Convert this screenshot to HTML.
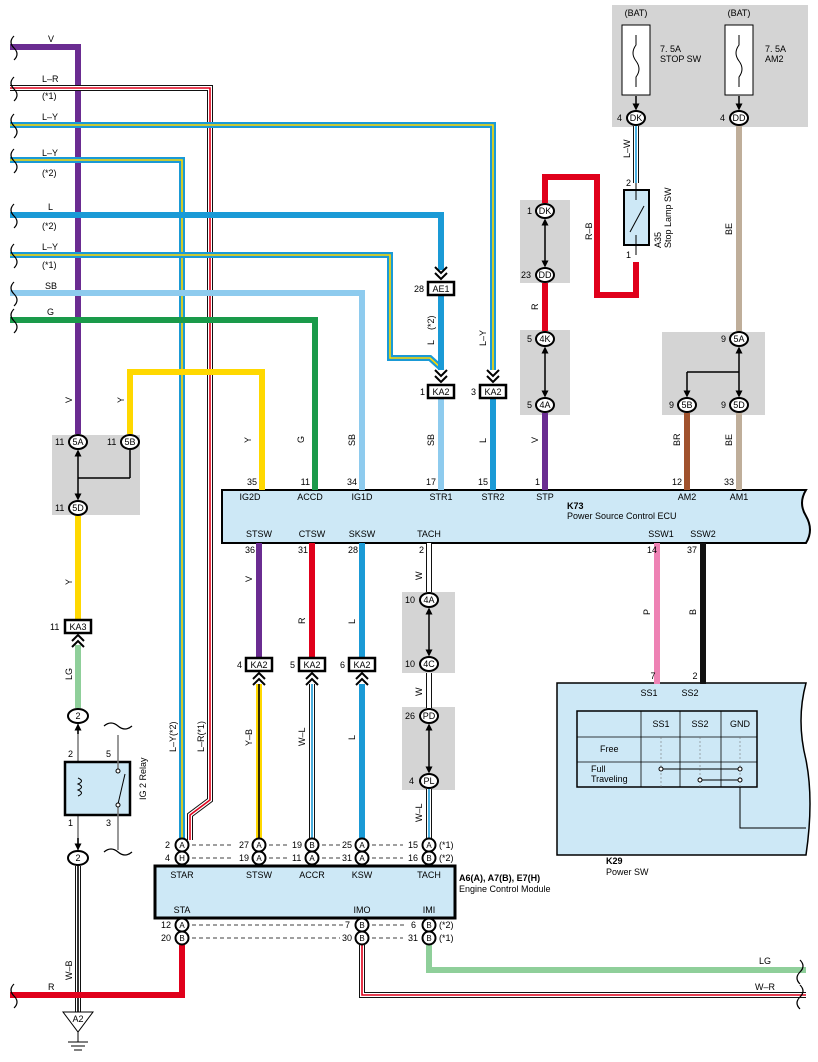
<!DOCTYPE html>
<html><head><meta charset="utf-8"><style>
body{margin:0;background:#fff}
svg{display:block;font-family:"Liberation Sans",sans-serif}
.c{fill:none;stroke-width:6;stroke-linejoin:miter}
.k{fill:none;stroke:#111;stroke-width:6;stroke-linejoin:miter}
.w{fill:none;stroke:#fff;stroke-width:4;stroke-linejoin:miter}
.s{fill:none;stroke-width:1.6}
.t{font-size:9px;fill:#000}
.p{font-size:9px;fill:#000;text-anchor:middle}
.e{font-size:9px;fill:#000;text-anchor:end}
.cc{fill:#fff;stroke:#000;stroke-width:2}
.g{fill:#d4d4d4}
.ch{fill:none;stroke:#000;stroke-width:2}
.ln{stroke:#000;stroke-width:1.5}
.r{fill:#fff;stroke:#000;stroke-width:2.5}
</style></head><body>
<svg width="818" height="1062" viewBox="0 0 818 1062">
<defs><marker id="ah" markerWidth="7" markerHeight="7" refX="3.5" refY="3.5" orient="auto-start-reverse" markerUnits="userSpaceOnUse"><path d="M0,0 L7,3.5 L0,7 Z" fill="#000"/></marker></defs>
<rect class="g" x="612" y="5" width="196" height="122"/>
<rect class="g" x="520" y="200" width="50" height="83"/>
<rect class="g" x="520" y="330" width="50" height="85"/>
<rect class="g" x="662" y="332" width="103" height="83"/>
<rect class="g" x="52" y="435" width="88" height="80"/>
<rect class="g" x="402" y="592" width="53" height="81"/>
<rect class="g" x="402" y="707" width="53" height="83"/>

<path d="M222 490 H806 Q798 503 806 516 Q814 530 806 543 H222 Z" fill="#cde8f6" stroke="#000" stroke-width="2"/>
<path d="M557 683 H806 Q796 720 806 760 Q814 800 806 855 H557 Z" fill="#cde8f6" stroke="#000" stroke-width="1.5"/>
<rect x="155" y="866" width="300" height="52" fill="#cde8f6" stroke="#000" stroke-width="3"/>

<polyline class="c" stroke="#6a2c91" points="10,47 78,47 78,434"/>
<polyline class="k" points="10,88 210,88 210,800 190,815 190,840"/><polyline class="w" points="10,88 210,88 210,800 190,815 190,840"/>
<polyline class="s" stroke="#e0001b" points="10,88 210,88 210,800 190,815 190,840"/>
<polyline class="c" stroke="#1a9ad6" points="10,125 493,125 493,370"/><polyline class="s" stroke="#ffd800" points="10,125 493,125 493,370"/>
<polyline class="c" stroke="#1a9ad6" points="10,160 182,160 182,838"/><polyline class="s" stroke="#ffd800" points="10,160 182,160 182,838"/>
<polyline class="c" stroke="#1a9ad6" points="10,215 441,215 441,270"/>
<polyline class="c" stroke="#1a9ad6" points="10,255 390,255 390,358 430,358 441,368"/><polyline class="s" stroke="#ffd800" points="10,255 390,255 390,358 430,358 441,368"/>
<polyline class="c" stroke="#8ecbee" points="10,293 362,293 362,490"/>
<polyline class="c" stroke="#1a9a4a" points="10,320 315,320 315,490"/>
<polyline class="c" stroke="#ffd800" points="130,434 130,372 262,372 262,490"/>
<polyline class="c" stroke="#1a9ad6" points="441,295 441,370"/>
<polyline class="c" stroke="#8ecbee" points="441,398 441,490"/>
<polyline class="c" stroke="#1a9ad6" points="493,398 493,490"/>
<polyline class="c" stroke="#6a2c91" points="545,413 545,490"/>
<polyline class="c" stroke="#e0001b" points="545,283 545,331"/>
<polyline class="c" stroke="#e0001b" points="545,203 545,177 597,177 597,295 636,295 636,262"/>
<polyline class="k" points="636,126 636,183"/><polyline class="w" points="636,126 636,183"/><polyline class="s" stroke="#1a9ad6" points="636,126 636,183"/>
<polyline class="c" stroke="#bfae9a" points="739,126 739,331"/>
<polyline class="c" stroke="#bfae9a" points="739,413 739,490"/>
<polyline class="c" stroke="#a0522d" points="687,413 687,490"/>
<polyline class="c" stroke="#ffd800" points="78,516 78,620"/>
<polyline class="c" stroke="#8fcf9a" points="78,645 78,708"/>
<polyline class="c" stroke="#6a2c91" points="259,543 259,658"/>
<polyline class="c" stroke="#e0001b" points="312,543 312,658"/>
<polyline class="c" stroke="#1a9ad6" points="362,543 362,658"/>
<polyline class="c" stroke="#ffd800" points="259,684 259,838"/><polyline class="s" stroke="#000" points="259,684 259,838"/>
<polyline class="k" points="312,684 312,838"/><polyline class="w" points="312,684 312,838"/><polyline class="s" stroke="#1a9ad6" points="312,684 312,838"/>
<polyline class="c" stroke="#1a9ad6" points="362,684 362,838"/>
<polyline class="k" points="429,543 429,592"/><polyline class="w" points="429,543 429,592"/>
<polyline class="k" points="429,673 429,708"/><polyline class="w" points="429,673 429,708"/>
<polyline class="k" points="429,789 429,838"/><polyline class="w" points="429,789 429,838"/><polyline class="s" stroke="#1a9ad6" points="429,789 429,838"/>
<polyline class="c" stroke="#ee82b4" points="657,543 657,684"/>
<polyline class="c" stroke="#111" points="703,543 703,684"/>
<line x1="78" y1="724" x2="78" y2="850" stroke="#777" stroke-width="1.5"/>
<polyline class="k" points="78,866 78,1012"/><polyline class="w" points="78,866 78,1012"/><polyline class="s" stroke="#000" points="78,866 78,1012"/>
<polyline class="c" stroke="#e0001b" points="182,945 182,995 10,995"/>
<polyline class="k" points="362,945 362,995 806,995"/><polyline class="w" points="362,945 362,995 806,995"/><polyline class="s" stroke="#e0001b" points="362,945 362,995 806,995"/>
<polyline class="c" stroke="#8fcf9a" points="429,945 429,970 806,970"/>

<g class="ln" marker-start="url(#ah)" marker-end="url(#ah)">
<line x1="545" y1="222" x2="545" y2="264"/>
<line x1="545" y1="350" x2="545" y2="394"/>
<line x1="739" y1="350" x2="739" y2="394"/>
<line x1="78" y1="453" x2="78" y2="497"/>
<line x1="429" y1="611" x2="429" y2="653"/>
<line x1="429" y1="727" x2="429" y2="770"/>
</g>
<line x1="78" y1="478" x2="130" y2="478" class="ln"/><line x1="130" y1="450" x2="130" y2="478" class="ln"/>
<line x1="687" y1="372" x2="739" y2="372" class="ln"/><line x1="687" y1="372" x2="687" y2="394" class="ln" marker-end="url(#ah)"/>
<line x1="636" y1="96" x2="636" y2="107" class="ln" marker-end="url(#ah)"/>
<line x1="739" y1="96" x2="739" y2="107" class="ln" marker-end="url(#ah)"/>
<line x1="78" y1="734" x2="78" y2="727" class="ln" marker-end="url(#ah)"/>
<line x1="78" y1="838" x2="78" y2="847" class="ln" marker-end="url(#ah)"/>

<g stroke="#000" fill="none" stroke-width="1.2">
<path d="M14 36 q-6 6 0 12 q6 6 0 12"/><path d="M14 77 q-6 6 0 12 q6 6 0 12"/><path d="M14 114 q-6 6 0 12 q6 6 0 12"/>
<path d="M14 149 q-6 6 0 12 q6 6 0 12"/><path d="M14 204 q-6 6 0 12 q6 6 0 12"/><path d="M14 244 q-6 6 0 12 q6 6 0 12"/>
<path d="M14 282 q-6 6 0 12 q6 6 0 12"/><path d="M14 309 q-6 6 0 12 q6 6 0 12"/><path d="M14 984 q-6 6 0 12 q6 6 0 12"/>
<path d="M800 960 q6 6 0 12 q-6 6 0 12"/><path d="M800 985 q6 6 0 12 q-6 6 0 12"/>
<path d="M104 726 q7 -6 14 0 q7 6 14 0"/><path d="M104 852 q7 -6 14 0 q7 6 14 0"/>
</g>

<rect x="622" y="25" width="28" height="70" fill="#fff" stroke="#000"/>
<path d="M636 35 v10 q-6 8 0 16 q6 8 0 16 v10" stroke="#000" fill="none"/>
<rect x="725" y="25" width="28" height="70" fill="#fff" stroke="#000"/>
<path d="M739 35 v10 q-6 8 0 16 q6 8 0 16 v10" stroke="#000" fill="none"/>
<text class="p" x="636" y="16">(BAT)</text><text class="p" x="739" y="16">(BAT)</text>
<text class="t" x="660" y="52">7. 5A</text><text class="t" x="660" y="62">STOP SW</text>
<text class="t" x="765" y="52">7. 5A</text><text class="t" x="765" y="62">AM2</text>

<rect x="624" y="190" width="25" height="55" fill="#cde8f6" stroke="#000" stroke-width="2"/>
<line x1="636" y1="183" x2="636" y2="200" stroke="#000"/><line x1="636" y1="235" x2="636" y2="255" stroke="#000"/>
<line x1="630" y1="232" x2="644" y2="206" stroke="#000"/>
<text class="t" x="626" y="186">2</text><text class="t" x="626" y="258">1</text>
<text class="t" transform="translate(661,248) rotate(-90)">A35</text>
<text class="t" transform="translate(671,248) rotate(-90)">Stop Lamp SW</text>

<rect x="65" y="762" width="65" height="53" fill="#cde8f6" stroke="#000" stroke-width="2.5"/>
<path d="M78 778 q7 3 0 6 q7 3 0 6 q7 3 0 6" stroke="#000" fill="none"/>
<line x1="118" y1="735" x2="118" y2="770" stroke="#777" stroke-width="1.5"/><line x1="118" y1="805" x2="118" y2="850" stroke="#777" stroke-width="1.5"/>
<line x1="118" y1="804" x2="125" y2="774" stroke="#000"/>
<circle cx="118" cy="771" r="2" fill="#fff" stroke="#000"/><circle cx="118" cy="805" r="2" fill="#fff" stroke="#000"/>
<text class="t" x="68" y="757">2</text><text class="t" x="106" y="757">5</text><text class="t" x="68" y="826">1</text><text class="t" x="106" y="826">3</text>
<text class="t" transform="translate(146,800) rotate(-90)">IG 2 Relay</text>

<path d="M63 1012 H93 L78 1032 Z" fill="#fff" stroke="#000"/>
<text class="p" x="78" y="1022">A2</text>
<line x1="78" y1="1032" x2="78" y2="1042" stroke="#000"/>
<line x1="68" y1="1042" x2="88" y2="1042" stroke="#000"/><line x1="71" y1="1046" x2="85" y2="1046" stroke="#000"/><line x1="74" y1="1050" x2="82" y2="1050" stroke="#000"/>

<g>
<ellipse class="cc" cx="636" cy="118" rx="9" ry="7"/><text class="p" x="636" y="121">DK</text><text class="t" x="617" y="121">4</text>
<ellipse class="cc" cx="739" cy="118" rx="9" ry="7"/><text class="p" x="739" y="121">DD</text><text class="t" x="720" y="121">4</text>
<ellipse class="cc" cx="545" cy="211" rx="9" ry="7"/><text class="p" x="545" y="214">DK</text><text class="t" x="527" y="214">1</text>
<ellipse class="cc" cx="545" cy="275" rx="9" ry="7"/><text class="p" x="545" y="278">DD</text><text class="t" x="521" y="278">23</text>
<ellipse class="cc" cx="545" cy="339" rx="9" ry="7"/><text class="p" x="545" y="342">4K</text><text class="t" x="527" y="342">5</text>
<ellipse class="cc" cx="545" cy="405" rx="9" ry="7"/><text class="p" x="545" y="408">4A</text><text class="t" x="527" y="408">5</text>
<ellipse class="cc" cx="739" cy="339" rx="9" ry="7"/><text class="p" x="739" y="342">5A</text><text class="t" x="721" y="342">9</text>
<ellipse class="cc" cx="687" cy="405" rx="9" ry="7"/><text class="p" x="687" y="408">5B</text><text class="t" x="669" y="408">9</text>
<ellipse class="cc" cx="739" cy="405" rx="9" ry="7"/><text class="p" x="739" y="408">5D</text><text class="t" x="721" y="408">9</text>
<ellipse class="cc" cx="78" cy="442" rx="9" ry="7"/><text class="p" x="78" y="445">5A</text><text class="t" x="55" y="445">11</text>
<ellipse class="cc" cx="130" cy="442" rx="9" ry="7"/><text class="p" x="130" y="445">5B</text><text class="t" x="107" y="445">11</text>
<ellipse class="cc" cx="78" cy="508" rx="9" ry="7"/><text class="p" x="78" y="511">5D</text><text class="t" x="55" y="511">11</text>
<ellipse class="cc" cx="429" cy="600" rx="9" ry="7"/><text class="p" x="429" y="603">4A</text><text class="t" x="405" y="603">10</text>
<ellipse class="cc" cx="429" cy="664" rx="9" ry="7"/><text class="p" x="429" y="667">4C</text><text class="t" x="405" y="667">10</text>
<ellipse class="cc" cx="429" cy="716" rx="9" ry="7"/><text class="p" x="429" y="719">PD</text><text class="t" x="405" y="719">26</text>
<ellipse class="cc" cx="429" cy="781" rx="9" ry="7"/><text class="p" x="429" y="784">PL</text><text class="t" x="409" y="784">4</text>
<ellipse class="cc" cx="78" cy="716" rx="10" ry="7"/><text class="p" x="78" y="719">2</text>
<ellipse class="cc" cx="78" cy="858" rx="10" ry="7"/><text class="p" x="78" y="861">2</text>
</g>

<g>
<rect class="r" x="428" y="282" width="26" height="13"/><text class="p" x="441" y="292">AE1</text><text class="t" x="414" y="292">28</text>
<rect class="r" x="428" y="385" width="26" height="13"/><text class="p" x="441" y="395">KA2</text><text class="t" x="420" y="395">1</text>
<rect class="r" x="480" y="385" width="26" height="13"/><text class="p" x="493" y="395">KA2</text><text class="t" x="471" y="395">3</text>
<rect class="r" x="65" y="620" width="26" height="13"/><text class="p" x="78" y="630">KA3</text><text class="t" x="50" y="630">11</text>
<rect class="r" x="246" y="658" width="26" height="13"/><text class="p" x="259" y="668">KA2</text><text class="t" x="237" y="668">4</text>
<rect class="r" x="299" y="658" width="26" height="13"/><text class="p" x="312" y="668">KA2</text><text class="t" x="290" y="668">5</text>
<rect class="r" x="349" y="658" width="26" height="13"/><text class="p" x="362" y="668">KA2</text><text class="t" x="340" y="668">6</text>
</g>
<g class="ch">
<path d="M435 267 l6 6 l6 -6 M435 273 l6 6 l6 -6"/>
<path d="M435 370 l6 6 l6 -6 M435 376 l6 6 l6 -6"/>
<path d="M487 370 l6 6 l6 -6 M487 376 l6 6 l6 -6"/>
<path d="M72 641 l6 -6 l6 6 M72 647 l6 -6 l6 6"/>
<path d="M253 679 l6 -6 l6 6 M253 685 l6 -6 l6 6"/>
<path d="M306 679 l6 -6 l6 6 M306 685 l6 -6 l6 6"/>
<path d="M356 679 l6 -6 l6 6 M356 685 l6 -6 l6 6"/>
</g>

<g class="e">
<text x="257" y="485">35</text><text x="310" y="485">11</text><text x="357" y="485">34</text><text x="436" y="485">17</text><text x="488" y="485">15</text><text x="540" y="485">1</text><text x="682" y="485">12</text><text x="734" y="485">33</text>
<text x="255" y="553">36</text><text x="308" y="553">31</text><text x="358" y="553">28</text><text x="424" y="553">2</text><text x="657" y="553">14</text><text x="697" y="553">37</text>
</g>
<g class="p">
<text x="250" y="500">IG2D</text><text x="310" y="500">ACCD</text><text x="362" y="500">IG1D</text><text x="441" y="500">STR1</text><text x="493" y="500">STR2</text><text x="545" y="500">STP</text><text x="687" y="500">AM2</text><text x="739" y="500">AM1</text>
<text x="259" y="537">STSW</text><text x="312" y="537">CTSW</text><text x="362" y="537">SKSW</text><text x="429" y="537">TACH</text><text x="661" y="537">SSW1</text><text x="703" y="537">SSW2</text>
</g>
<text x="567" y="509" style="font-size:9px;font-weight:bold">K73</text>
<text class="t" x="567" y="519">Power Source Control ECU</text>

<text class="p" x="653" y="679">7</text><text class="p" x="695" y="679">2</text>
<text class="p" x="649" y="696">SS1</text><text class="p" x="690" y="696">SS2</text>
<rect x="577" y="711" width="180" height="76" fill="#cde8f6" stroke="#000" stroke-width="1.5"/>
<g stroke="#000" stroke-width="0.8"><line x1="577" y1="737" x2="757" y2="737"/><line x1="577" y1="762" x2="757" y2="762"/>
<line x1="641" y1="711" x2="641" y2="787"/><line x1="680" y1="711" x2="680" y2="787"/><line x1="721" y1="711" x2="721" y2="787"/></g>
<g stroke="#777" stroke-dasharray="2,2" stroke-width="0.6"><line x1="661" y1="737" x2="661" y2="787"/><line x1="700" y1="737" x2="700" y2="787"/><line x1="740" y1="737" x2="740" y2="787"/></g>
<text class="p" x="661" y="727">SS1</text><text class="p" x="700" y="727">SS2</text><text class="p" x="740" y="727">GND</text>
<text class="t" x="600" y="752">Free</text><text class="t" x="591" y="772">Full</text><text class="t" x="591" y="782">Traveling</text>
<g stroke="#000" fill="#fff"><line x1="661" y1="769" x2="740" y2="769"/><line x1="700" y1="780" x2="740" y2="780"/>
<circle cx="661" cy="769" r="2"/><circle cx="740" cy="769" r="2"/><circle cx="700" cy="780" r="2"/><circle cx="740" cy="780" r="2"/></g>
<polyline points="740,787 740,828 806,828" fill="none" stroke="#000"/>
<text x="606" y="864" style="font-size:9px;font-weight:bold">K29</text><text class="t" x="606" y="875">Power SW</text>

<g>
<circle class="cc" cx="182" cy="845" r="6.5"/><text class="p" x="182" y="848" style="font-size:8px">A</text>
<circle class="cc" cx="182" cy="858" r="6.5"/><text class="p" x="182" y="861" style="font-size:8px">H</text>
<circle class="cc" cx="259" cy="845" r="6.5"/><text class="p" x="259" y="848" style="font-size:8px">A</text>
<circle class="cc" cx="259" cy="858" r="6.5"/><text class="p" x="259" y="861" style="font-size:8px">A</text>
<circle class="cc" cx="312" cy="845" r="6.5"/><text class="p" x="312" y="848" style="font-size:8px">B</text>
<circle class="cc" cx="312" cy="858" r="6.5"/><text class="p" x="312" y="861" style="font-size:8px">A</text>
<circle class="cc" cx="362" cy="845" r="6.5"/><text class="p" x="362" y="848" style="font-size:8px">A</text>
<circle class="cc" cx="362" cy="858" r="6.5"/><text class="p" x="362" y="861" style="font-size:8px">A</text>
<circle class="cc" cx="429" cy="845" r="6.5"/><text class="p" x="429" y="848" style="font-size:8px">A</text>
<circle class="cc" cx="429" cy="858" r="6.5"/><text class="p" x="429" y="861" style="font-size:8px">B</text>
<circle class="cc" cx="182" cy="925" r="6.5"/><text class="p" x="182" y="928" style="font-size:8px">A</text>
<circle class="cc" cx="182" cy="938" r="6.5"/><text class="p" x="182" y="941" style="font-size:8px">B</text>
<circle class="cc" cx="362" cy="925" r="6.5"/><text class="p" x="362" y="928" style="font-size:8px">B</text>
<circle class="cc" cx="362" cy="938" r="6.5"/><text class="p" x="362" y="941" style="font-size:8px">B</text>
<circle class="cc" cx="429" cy="925" r="6.5"/><text class="p" x="429" y="928" style="font-size:8px">B</text>
<circle class="cc" cx="429" cy="938" r="6.5"/><text class="p" x="429" y="941" style="font-size:8px">B</text>
</g>
<g stroke="#000" stroke-dasharray="4,3" stroke-width="0.8">
<line x1="192" y1="845" x2="234" y2="845"/><line x1="192" y1="858" x2="234" y2="858"/>
<line x1="269" y1="845" x2="288" y2="845"/><line x1="269" y1="858" x2="288" y2="858"/>
<line x1="322" y1="845" x2="340" y2="845"/><line x1="322" y1="858" x2="340" y2="858"/>
<line x1="372" y1="845" x2="403" y2="845"/><line x1="372" y1="858" x2="403" y2="858"/>
<line x1="192" y1="925" x2="343" y2="925"/><line x1="192" y1="938" x2="340" y2="938"/>
<line x1="372" y1="925" x2="405" y2="925"/><line x1="372" y1="938" x2="403" y2="938"/>
</g>
<g class="t">
<text x="165" y="848">2</text><text x="165" y="861">4</text><text x="239" y="848">27</text><text x="239" y="861">19</text>
<text x="292" y="848">19</text><text x="292" y="861">11</text><text x="342" y="848">25</text><text x="342" y="861">31</text>
<text x="408" y="848">15</text><text x="408" y="861">16</text><text x="439" y="848">(*1)</text><text x="439" y="861">(*2)</text>
<text x="161" y="928">12</text><text x="161" y="941">20</text><text x="345" y="928">7</text><text x="342" y="941">30</text>
<text x="411" y="928">6</text><text x="408" y="941">31</text><text x="439" y="928">(*2)</text><text x="439" y="941">(*1)</text>
</g>
<g class="p"><text x="182" y="878">STAR</text><text x="259" y="878">STSW</text><text x="312" y="878">ACCR</text><text x="362" y="878">KSW</text><text x="429" y="878">TACH</text>
<text x="182" y="913">STA</text><text x="362" y="913">IMO</text><text x="429" y="913">IMI</text></g>
<text x="459" y="881" style="font-size:9px;font-weight:bold">A6(A), A7(B), E7(H)</text>
<text class="t" x="459" y="892">Engine Control Module</text>

<g class="t">
<text x="48" y="42">V</text><text x="42" y="82">L–R</text><text x="42" y="99">(*1)</text><text x="42" y="120">L–Y</text>
<text x="42" y="156">L–Y</text><text x="42" y="176">(*2)</text><text x="48" y="210">L</text><text x="42" y="229">(*2)</text>
<text x="42" y="250">L–Y</text><text x="42" y="268">(*1)</text><text x="45" y="289">SB</text><text x="47" y="315">G</text>
<text x="48" y="990">R</text><text x="759" y="964">LG</text><text x="755" y="990">W–R</text>
</g>
<g class="t">
<text transform="translate(72,403) rotate(-90)">V</text><text transform="translate(124,403) rotate(-90)">Y</text>
<text transform="translate(251,443) rotate(-90)">Y</text><text transform="translate(304,443) rotate(-90)">G</text>
<text transform="translate(355,446) rotate(-90)">SB</text><text transform="translate(434,446) rotate(-90)">SB</text>
<text transform="translate(486,443) rotate(-90)">L</text><text transform="translate(538,443) rotate(-90)">V</text>
<text transform="translate(680,446) rotate(-90)">BR</text><text transform="translate(732,446) rotate(-90)">BE</text>
<text transform="translate(434,345) rotate(-90)">L</text><text transform="translate(434,330) rotate(-90)">(*2)</text>
<text transform="translate(486,346) rotate(-90)">L–Y</text><text transform="translate(538,310) rotate(-90)">R</text>
<text transform="translate(592,240) rotate(-90)">R–B</text><text transform="translate(630,158) rotate(-90)">L–W</text>
<text transform="translate(732,235) rotate(-90)">BE</text><text transform="translate(72,585) rotate(-90)">Y</text>
<text transform="translate(72,680) rotate(-90)">LG</text><text transform="translate(252,582) rotate(-90)">V</text>
<text transform="translate(305,624) rotate(-90)">R</text><text transform="translate(355,624) rotate(-90)">L</text>
<text transform="translate(422,580) rotate(-90)">W</text><text transform="translate(422,696) rotate(-90)">W</text>
<text transform="translate(422,822) rotate(-90)">W–L</text><text transform="translate(650,615) rotate(-90)">P</text>
<text transform="translate(696,615) rotate(-90)">B</text><text transform="translate(252,746) rotate(-90)">Y–B</text>
<text transform="translate(305,746) rotate(-90)">W–L</text><text transform="translate(355,740) rotate(-90)">L</text>
<text transform="translate(176,752) rotate(-90)">L–Y(*2)</text><text transform="translate(204,752) rotate(-90)">L–R(*1)</text>
<text transform="translate(72,980) rotate(-90)">W–B</text>
</g>
</svg>
</body></html>
